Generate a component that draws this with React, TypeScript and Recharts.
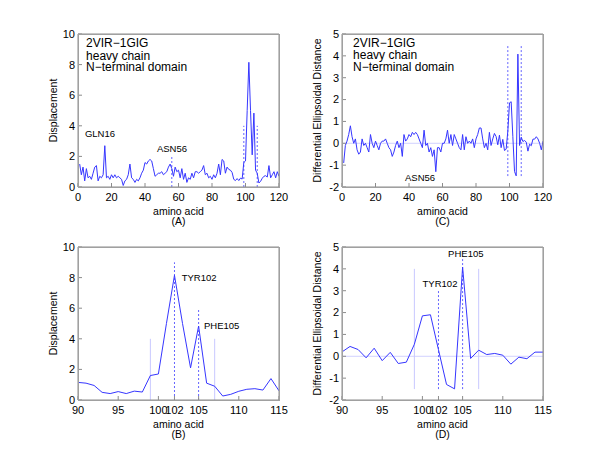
import React from 'react';
import { LineChart, Line, XAxis, YAxis, ReferenceLine, ReferenceDot } from 'recharts';

// residue numbers along the heavy chain N-terminal domain
const residues = [
  1, 2, 3, 4, 5, 6, 7, 8, 9, 10, 11, 12, 13, 14, 15, 16, 17, 18, 19, 20,
  21, 22, 23, 24, 25, 26, 27, 28, 29, 30, 31, 32, 33, 34, 35, 36, 37, 38, 39, 40,
  41, 42, 43, 44, 45, 46, 47, 48, 49, 50, 51, 52, 53, 54, 55, 56, 57, 58, 59, 60,
  61, 62, 63, 64, 65, 66, 67, 68, 69, 70, 71, 72, 73, 74, 75, 76, 77, 78, 79, 80,
  81, 82, 83, 84, 85, 86, 87, 88, 89, 90, 91, 92, 93, 94, 95, 96, 97, 98, 99, 100,
  101, 102, 103, 104, 105, 106, 107, 108, 109, 110, 111, 112, 113, 114, 115, 116, 117, 118, 119, 120,
];

// displacement per residue (A, B)
const displacement = [
  1.5, 0.8, 1.3, 0.4, 1.2, 0.6, 0.7, 0.5, 0.9, 1.3, 1.4, 0.4, 0.7, 0.6, 0.8, 2.7, 0.6, 0.7, 0.5, 0.8,
  0.6, 0.8, 0.6, 0.7, 0.6, 0.5, 0.1, 0.4, 0.5, 0.8, 1.5, 0.6, 0.5, 0.3, 0.5, 0.4, 0.6, 0.9, 1.1, 1.6,
  1.5, 1.7, 1.8, 1.7, 1.2, 0.7, 0.8, 0.9, 0.9, 1.0, 0.8, 0.9, 1.0, 1.3, 1.5, 1.2, 0.7, 1.3, 1.0, 1.1,
  0.6, 1.2, 0.5, 0.9, 0.3, 0.6, 0.5, 0.9, 0.6, 1.0, 1.0, 0.9, 1.0, 1.1, 1.4, 0.8, 0.9, 0.6, 0.7, 0.5,
  0.8, 0.6, 0.9, 1.5, 0.8, 1.8, 1.7, 0.9, 1.3, 1.15, 1.1, 0.95, 0.5, 0.42, 0.55, 0.42, 0.58, 0.52, 1.6, 1.7,
  5.0, 8.15, 5.0, 2.1, 4.83, 1.1, 0.9, 0.26, 0.37, 0.57, 0.7, 0.74, 0.65, 1.4, 0.6, 0.8, 1.0, 0.6, 1.0, 0.7,
];

// differential ellipsoidal distance per residue (C, D)
const ellipsoidal = [
  -0.9, -0.1, 0.1, 0.4, 0.8, 0.3, 0.0, 0.2, -0.3, -0.5, -0.4, 0.2, -0.1, 0.0, -0.2, -0.4, 0.4, 0.0, -0.2, 0.1,
  -0.1, -0.3, 0.0, 0.1, 0.1, 0.2, 0.0, -0.2, -0.3, -0.6, -0.4, -0.1, 0.1, -0.2, 0.0, -0.6, 0.4, 0.1, 0.2, 0.4,
  0.3, 0.5, 0.4, 0.5, 0.4, 0.2, 0.0, -0.2, 0.6, -0.1, 0.0, -0.4, -0.2, -0.6, -0.3, -1.3, -0.2, -0.2, -0.4, 0.0,
  0.0, 0.2, 0.6, 0.0, 0.4, -0.1, 0.4, 0.2, 0.0, -0.2, -0.3, 0.4, -0.3, 0.3, 0.0, 0.1, 0.0, 0.2, -0.2, 0.2,
  0.4, 0.7, 0.7, 0.2, -0.2, 0.0, -0.3, 0.5, -0.1, 0.2, 0.45, 0.31, -0.07, 0.37, -0.2, 0.18, -0.33, -0.27, 0.55, 1.85,
  1.9, 0.3, -1.29, -1.49, 4.08, -0.1, 0.28, 0.08, 0.13, 0.05, -0.36, -0.04, -0.11, 0.19, 0.19, 0.3, 0.2, 0.0, -0.3, 0.1,
];

const fullTicks = [0, 20, 40, 60, 80, 100, 120];
const zoomTicks = [90, 95, 100, 102, 105, 110, 115];
const dispTicks = [0, 2, 4, 6, 8, 10];
const ellipTicks = [-2, -1, 0, 1, 2, 3, 4, 5];
const boxLines = ['2VIR\u22121GIG', 'heavy chain', 'N\u2212terminal domain'];

const FONT = '"Liberation Sans", Arial, Helvetica, sans-serif';
const BLUE = '#3636ff';
const AXIS = '#8c8c8c';

const rows = residues.map((res, i) => ({ res, disp: displacement[i], ellip: ellipsoidal[i] }));
const zoomRows = rows.filter(r => r.res >= 90 && r.res <= 115);

type Seg = { x: number; y1: number; y2: number; faint?: boolean };
type Note = { x: number; y: number; text: string; size: number; pos: 'center' | 'right' };

interface PanelProps {
  left: number;
  top: number;
  height: number;
  plotLeft: number;
  plotTop: number;
  data: any[];
  dataKey: string;
  xDomain: [number, number];
  xTicks: number[];
  yDomain: [number, number];
  yTicks: number[];
  yTitle: string;
  tag: string;
  segs: Seg[];
  notes: Note[];
  zeroLine?: boolean;
}

const PLOT_W = 201;
const PLOT_H = 153;
const EDGE = 5; // room for the top and right box axes

const Panel: React.FC<PanelProps> = p => {
  const xTitle = (props: any) => {
    const { x, y, width } = props.viewBox;
    const cx = x + width / 2;
    return (
      <g>
        <text x={cx} y={y + 27.5} textAnchor="middle" fontSize={10.5} fill="#000">amino acid</text>
        <text x={cx} y={y + 38} textAnchor="middle" fontSize={10.5} fill="#000">({p.tag})</text>
      </g>
    );
  };
  const yTitle = (props: any) => {
    const { x, y, height } = props.viewBox;
    const cx = x + 15;
    const cy = y + height / 2;
    return (
      <text x={cx} y={cy} transform={`rotate(-90 ${cx} ${cy})`} textAnchor="middle"
        dominantBaseline="central" fontSize={10.5} fill="#000">{p.yTitle}</text>
    );
  };

  return (
    <div style={{ position: 'absolute', left: p.left, top: p.top }}>
      <LineChart
        width={300}
        height={p.height}
        data={p.data}
        margin={{
          top: p.plotTop - EDGE,
          left: p.plotLeft - 40,
          right: 300 - p.plotLeft - PLOT_W - EDGE,
          bottom: p.height - p.plotTop - PLOT_H - 30,
        }}
      >
        <XAxis dataKey="res" type="number" domain={p.xDomain} ticks={p.xTicks} interval={0}
          height={30} stroke={AXIS} tickSize={-4} tickMargin={10}
          tick={{ fontSize: 11, fill: '#000' }} label={{ content: xTitle }} />
        <XAxis xAxisId="top" dataKey="res" orientation="top" type="number" domain={p.xDomain}
          ticks={p.xTicks} height={EDGE} stroke={AXIS} tickSize={-4} tick={false} />
        <YAxis type="number" domain={p.yDomain} ticks={p.yTicks} interval={0} width={40}
          stroke={AXIS} tickSize={-4} tickMargin={7}
          tick={{ fontSize: 11, fill: '#000' }} label={{ content: yTitle }} />
        <YAxis yAxisId="right" orientation="right" type="number" domain={p.yDomain} ticks={p.yTicks}
          width={EDGE} stroke={AXIS} tickSize={-4} tick={false} />

        {p.zeroLine && <ReferenceLine y={0} stroke="#d2d2ff" strokeWidth={1} />}
        {p.segs.map((s, i) => (
          <ReferenceLine key={i}
            segment={[{ x: s.x, y: s.y1 }, { x: s.x, y: s.y2 }]}
            stroke={s.faint ? '#c8c8ff' : '#6464ff'}
            strokeDasharray={s.faint ? undefined : '2 2'}
            strokeWidth={1} />
        ))}

        <Line xAxisId="top" yAxisId="right" type="linear" dataKey={p.dataKey} stroke="none"
          dot={false} activeDot={false} isAnimationActive={false} />
        <Line type="linear" dataKey={p.dataKey} stroke={BLUE} strokeWidth={1} dot={false}
          activeDot={false} isAnimationActive={false} />

        {p.notes.map((n, i) => (
          <ReferenceDot key={i} x={n.x} y={n.y} r={0} fill="none" stroke="none"
            label={{ value: n.text, position: n.pos, offset: 0, fontSize: n.size, fill: '#000' }} />
        ))}
      </LineChart>
      {/* plot frame */}
      <div style={{
        position: 'absolute', left: p.plotLeft, top: p.plotTop, width: PLOT_W + 1, height: PLOT_H + 1,
        boxSizing: 'border-box', border: '1px solid #a0a0a0', pointerEvents: 'none',
      }} />
    </div>
  );
};

const App: React.FC = () => {
  const boxA: Note[] = boxLines.map((t, i) => ({ x: 4.8, y: [9.4, 8.6, 7.85][i], text: t, size: 12, pos: 'right' }));
  const boxC: Note[] = boxLines.map((t, i) => ({ x: 6.6, y: [4.59, 4.04, 3.49][i], text: t, size: 12, pos: 'right' }));

  return (
    <div style={{ position: 'absolute', left: 0, top: 0, width: 600, height: 450, background: '#fff', fontFamily: FONT }}>
      {/* (A) full domain displacement */}
      <Panel left={0} top={0} height={240} plotLeft={78} plotTop={34} data={rows} dataKey="disp"
        xDomain={[0, 120]} xTicks={fullTicks} yDomain={[0, 10]} yTicks={dispTicks}
        yTitle="Displacement" tag="A"
        segs={[{ x: 56, y1: 0, y2: 2 }, { x: 99, y1: 0, y2: 4 }, { x: 107, y1: 0, y2: 4 }]}
        notes={[
          ...boxA,
          { x: 13.1, y: 3.46, text: 'GLN16', size: 9.5, pos: 'center' },
          { x: 56.1, y: 2.48, text: 'ASN56', size: 9.5, pos: 'center' },
        ]} />

      {/* (C) full domain ellipsoidal distance */}
      <Panel left={300} top={0} height={240} plotLeft={42} plotTop={34} data={rows} dataKey="ellip"
        xDomain={[0, 120]} xTicks={fullTicks} yDomain={[-2, 5]} yTicks={ellipTicks}
        yTitle="Differential Ellipsoidal Distance" tag="C" zeroLine
        segs={[{ x: 99, y1: -1.5, y2: 4.5 }, { x: 107, y1: -1.5, y2: 4.5 }]}
        notes={[
          ...boxC,
          { x: 46.6, y: -1.59, text: 'ASN56', size: 9.5, pos: 'center' },
        ]} />

      {/* (B) zoom 90-115 displacement */}
      <Panel left={0} top={225} height={225} plotLeft={78} plotTop={22} data={zoomRows} dataKey="disp"
        xDomain={[90, 115]} xTicks={zoomTicks} yDomain={[0, 10]} yTicks={dispTicks}
        yTitle="Displacement" tag="B"
        segs={[
          { x: 99, y1: 0, y2: 4, faint: true },
          { x: 107, y1: 0, y2: 4, faint: true },
          { x: 102, y1: 0, y2: 9 },
          { x: 105, y1: 0, y2: 6 },
        ]}
        notes={[
          { x: 102.9, y: 7.97, text: 'TYR102', size: 9.5, pos: 'right' },
          { x: 105.67, y: 4.84, text: 'PHE105', size: 9.5, pos: 'right' },
        ]} />

      {/* (D) zoom 90-115 ellipsoidal distance */}
      <Panel left={300} top={225} height={225} plotLeft={42} plotTop={22} data={zoomRows} dataKey="ellip"
        xDomain={[90, 115]} xTicks={zoomTicks} yDomain={[-2, 5]} yTicks={ellipTicks}
        yTitle="Differential Ellipsoidal Distance" tag="D" zeroLine
        segs={[
          { x: 99, y1: -1.5, y2: 4, faint: true },
          { x: 107, y1: -1.5, y2: 4, faint: true },
          { x: 102, y1: -1.5, y2: 3 },
          { x: 105, y1: -1.5, y2: 4.5 },
        ]}
        notes={[
          { x: 102.19, y: 3.31, text: 'TYR102', size: 9.5, pos: 'center' },
          { x: 105.4, y: 4.68, text: 'PHE105', size: 9.5, pos: 'center' },
        ]} />
    </div>
  );
};

export default App;
